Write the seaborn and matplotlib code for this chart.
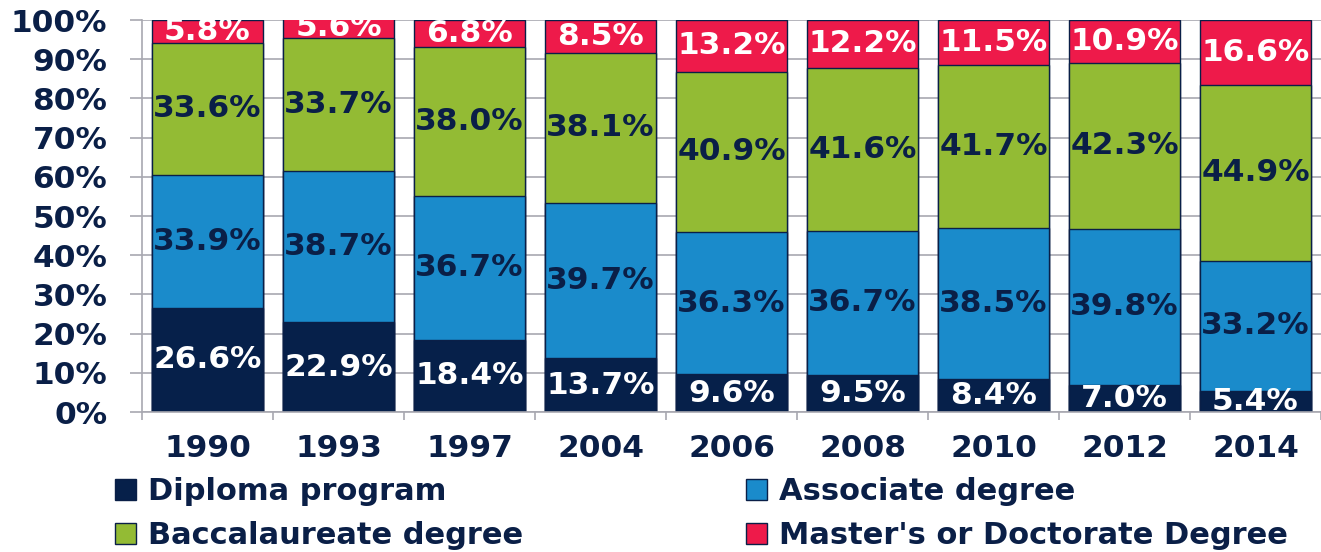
import matplotlib
matplotlib.use("Agg")
import matplotlib.pyplot as plt
import seaborn as sns
import numpy as np
from matplotlib.patches import Patch

years = ["1990", "1993", "1997", "2004", "2006", "2008", "2010", "2012", "2014"]
diploma = [26.6, 22.9, 18.4, 13.7, 9.6, 9.5, 8.4, 7.0, 5.4]
associate = [33.9, 38.7, 36.7, 39.7, 36.3, 36.7, 38.5, 39.8, 33.2]
baccalaureate = [33.6, 33.7, 38.0, 38.1, 40.9, 41.6, 41.7, 42.3, 44.9]
master = [5.8, 5.6, 6.8, 8.5, 13.2, 12.2, 11.5, 10.9, 16.6]
series_names = ["Diploma program", "Associate degree", "Baccalaureate degree",
                "Master's or Doctorate Degree"]
yticks = [0, 10, 20, 30, 40, 50, 60, 70, 80, 90, 100]

NAVY = "#0a1f47"
colors = ["#06204a", "#1a8bcb", "#93bb34", "#ee1a4a"]
label_colors = ["white", NAVY, NAVY, "white"]
GRID = "#a8a8b0"

sns.set_theme(style="white")
plt.rcParams["font.family"] = ["DejaVu Sans"]
plt.rcParams["font.weight"] = "bold"

fig = plt.figure(figsize=(13.21, 5.52), dpi=100)
ax = fig.add_axes([142 / 1321, 1 - 412 / 552, 1 - 142 / 1321, (412 - 20) / 552])

data = [diploma, associate, baccalaureate, master]
cums = np.cumsum(np.array(data), axis=0)

# draw cumulative bars from top down
for k in range(3, -1, -1):
    sns.barplot(x=years, y=cums[k], color=colors[k], saturation=1, width=0.84,
                edgecolor=NAVY, linewidth=1.0, ax=ax, order=years)

# labels
for k in range(4):
    for i, v in enumerate(data[k]):
        bottom = cums[k][i] - v
        ax.text(i, bottom + v / 2, f"{v:.1f}%", ha="center", va="center",
                color=label_colors[k], fontsize=22.5, fontweight="bold",
                clip_on=True)

ax.set_xlim(-0.5, len(years) - 0.5)
ax.set_ylim(0, 100)
ax.set_yticks(yticks)
ax.set_yticklabels([f"{t}%" for t in yticks])
ax.yaxis.grid(True, color=GRID, lw=1.2)
ax.set_axisbelow(True)

for s in ["top", "right"]:
    ax.spines[s].set_visible(False)
for s in ["left", "bottom"]:
    ax.spines[s].set_color(GRID)
    ax.spines[s].set_linewidth(1.2)

ax.tick_params(axis="y", which="major", length=9, width=1.2, color=GRID,
               pad=16, labelsize=22.5, labelcolor=NAVY, left=True)
ax.set_xticks(np.arange(-0.5, len(years), 1.0), minor=True)
ax.tick_params(axis="x", which="minor", length=6, width=1.2, color=GRID, bottom=True)
ax.tick_params(axis="x", which="major", length=0, pad=15.5, labelsize=22.5,
               labelcolor=NAVY)
for lab in ax.get_xticklabels() + ax.get_yticklabels():
    lab.set_fontweight("bold")
ax.set_xlabel("")
ax.set_ylabel("")

handles = [Patch(facecolor=colors[k], edgecolor=NAVY, linewidth=1.0) for k in range(4)]
order = [0, 2, 1, 3]
leg = fig.legend([handles[k] for k in order], [series_names[k] for k in order],
                 ncol=2, loc="upper left", bbox_to_anchor=(115 / 1321, 1 - 477 / 552),
                 frameon=False, fontsize=22, handlelength=0.68, handleheight=0.68,
                 handletextpad=0.4, columnspacing=7.3, labelspacing=0.5,
                 borderpad=0, borderaxespad=0)
for txt in leg.get_texts():
    txt.set_color(NAVY)
    txt.set_fontweight("bold")

fig.savefig("out.png", dpi=100)
